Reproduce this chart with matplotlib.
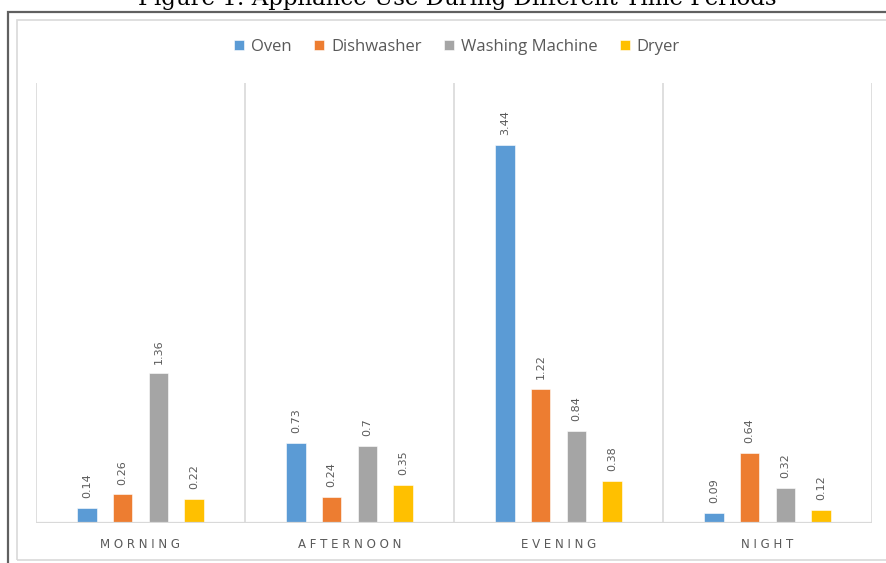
import matplotlib.pyplot as plt
from matplotlib.patches import Rectangle
import numpy as np

# data
periods = ["MORNING", "AFTERNOON", "EVENING", "NIGHT"]
appliances = ["Oven", "Dishwasher", "Washing Machine", "Dryer"]
oven = [0.14, 0.73, 3.44, 0.09]
dishwasher = [0.26, 0.24, 1.22, 0.64]
washing = [1.36, 0.7, 0.84, 0.32]
dryer = [0.22, 0.35, 0.38, 0.12]
colors = ["#5B9BD5", "#ED7D31", "#A5A5A5", "#FFC000"]

W, H = 886, 563
fig = plt.figure(figsize=(W / 100, H / 100), dpi=100)

# frame of the figure box (dark) and the chart area (light)
fig.patches.append(Rectangle((7.5 / W, -0.1), 1.2, 1 - 12.5 / H + 0.1,
                             transform=fig.transFigure, fill=False,
                             edgecolor="#606060", lw=1.6))
fig.patches.append(Rectangle((16.5 / W, 3 / H), 1.2, 1 - 23 / H,
                             transform=fig.transFigure, fill=False,
                             edgecolor="#D9D9D9", lw=1.2))

# caption of the figure, cut by the top edge as in the screenshot
fig.text(457 / W, 1 - 5 / H, "Figure 1: Appliance Use During Different Time Periods",
         family="DejaVu Serif", fontsize=16.5, ha="center", va="baseline")

ax = fig.add_axes([36 / W, 40 / H, 836 / W, 440 / H])
x = np.arange(len(periods))
step = 0.171
width = 0.093
series = [oven, dishwasher, washing, dryer]
for i, (name, vals) in enumerate(zip(appliances, series)):
    pos = x + (i - 1.5) * step
    ax.bar(pos, vals, width, color=colors[i], label=name,
           edgecolor="white", linewidth=0.4, zorder=3)
    for px, v in zip(pos, vals):
        ax.annotate("{:g}".format(v), (px, v), xytext=(0, 7),
                    textcoords="offset points", rotation=90,
                    ha="center", va="bottom", fontsize=8, color="#595959")

ax.set_xlim(-0.5, len(periods) - 0.5)
ax.set_ylim(0, 4)
for b in np.arange(-0.5, len(periods), 1):
    ax.axvline(b, color="#D9D9D9", lw=1.2, zorder=1)
ax.axhline(0, color="#D9D9D9", lw=1.6, zorder=4)
for s in ax.spines.values():
    s.set_visible(False)
ax.set_yticks([])
ax.set_xticks(x)
ax.set_xticklabels([" ".join(p) for p in periods], fontsize=8.5, color="#595959")
ax.tick_params(axis="x", length=0, pad=11)

fig.legend(loc="center", bbox_to_anchor=(457 / W, 1 - 47 / H), ncol=4,
           frameon=False, handlelength=0.6, handleheight=0.6,
           handletextpad=0.4, columnspacing=1.35,
           prop={"family": "Open Sans", "size": 12})
for t in fig.legends[0].get_texts():
    t.set_color("#595959")

fig.savefig("out.png", dpi=100)
